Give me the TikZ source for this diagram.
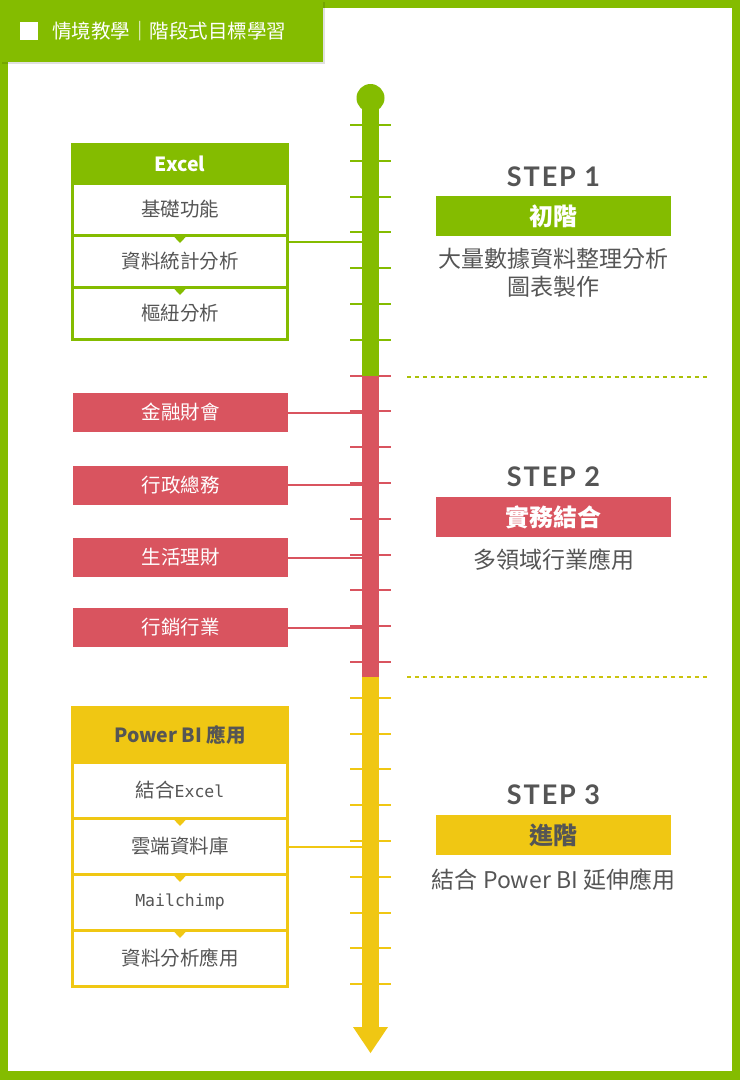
\documentclass[tikz,border=0pt]{standalone}
\usepackage{fontspec}
\setmainfont{Noto Sans CJK TC}
\setmonofont{DejaVu Sans Mono}
\newfontfamily\stepfont[LetterSpace=7]{Lato}
\usepackage{xcolor}
\usetikzlibrary{positioning,calc,shadows}

\definecolor{stepgreen}{HTML}{84BC00}
\definecolor{stepred}{HTML}{D9545F}
\definecolor{stepyellow}{HTML}{F0C713}
\definecolor{textgray}{HTML}{555555}
\newcommand{\monotext}[1]{{\ttfamily\fontsize{16.5}{18}\selectfont #1}}

\tikzset{
  ruler/.style={line width=2pt},
  link/.style={line width=2pt},
  cell/.style={draw, line width=3pt, fill=white, minimum width=215pt, minimum height=52pt,
    inner sep=0pt, outer sep=0pt, text=textgray, font=\fontsize{19.5}{21}\selectfont},
  cellhead/.style={cell, text=white, font=\fontsize{19.5}{21}\selectfont\bfseries},
  job/.style={fill=stepred, minimum width=215pt, minimum height=39pt, inner sep=0pt,
    text=white, font=\fontsize{19.5}{21}\selectfont},
  steptitle/.style={text=textgray, font=\stepfont\bfseries\fontsize{27}{29}\selectfont},
  steplabel/.style={minimum width=235pt, minimum height=40pt, inner sep=0pt,
    font=\fontsize{24}{26}\selectfont\bfseries},
  stepnote/.style={text=textgray, align=center, font=\fontsize{23}{28}\selectfont},
  stepsep/.style={line width=2pt, dash pattern=on 4pt off 4pt},
}

\begin{document}
\begin{tikzpicture}[x=1pt,y=-1pt]
  \useasboundingbox (0,0) rectangle (740,1080);
  % frame
  \fill[stepgreen] (0,0) rectangle (740,1080);
  \fill[white] (8,8) rectangle (732,1071);
  % header tab
  \fill[stepgreen, drop shadow={shadow xshift=2pt, shadow yshift=-2pt, opacity=.12, fill=black}] (0,0) rectangle (323,62);
  \node[fill=white, minimum size=18pt, inner sep=0pt] (hbox) at (29,31) {};
  \node[anchor=west, text=white, inner sep=0pt, font=\fontsize{19.5}{21}\selectfont] (htitle) at (52,31) {情境教學｜階段式目標學習};

  % timeline
  \foreach \k in {0,...,6} \draw[ruler,stepgreen] (350,{125+35.8*\k}) -- (391,{125+35.8*\k});
  \foreach \k in {7,...,15} \draw[ruler,stepred] (350,{125+35.8*\k}) -- (391,{125+35.8*\k});
  \foreach \k in {16,...,24} \draw[ruler,stepyellow] (350,{125+35.8*\k}) -- (391,{125+35.8*\k});
  \fill[stepgreen] (370.5,98) circle (14);
  \fill[stepgreen] (362,98) rectangle (379,376);
  \fill[stepred] (362,376) rectangle (379,677);
  \fill[stepyellow] (362,677) rectangle (379,1030);
  \fill[stepyellow] (353,1027) -- (388,1027) -- (370.5,1053) -- cycle;
  \coordinate (rail) at (362,0);

  % separators
  \draw[stepsep, stepgreen!65!stepyellow] (407,377) -- (707,377);
  \draw[stepsep, stepgreen!35!stepyellow] (407,677) -- (707,677);

  % step 1: Excel
  \node[cellhead, fill=stepgreen, draw=stepgreen, minimum height=39pt] (ex0) at (180,163.5) {Excel};
  \node[cell, draw=stepgreen, below=0pt of ex0] (ex1) {基礎功能};
  \node[cell, draw=stepgreen, below=0pt of ex1] (ex2) {資料統計分析};
  \node[cell, draw=stepgreen, below=0pt of ex2] (ex3) {樞紐分析};
  \foreach \n in {ex2,ex3}
    \fill[stepgreen] (\n.north) ++(-7.5,0) -- ++(15,0) -- ++(-7.5,8) -- cycle;
  \coordinate (exmid) at ($(ex0.north east)!.5!(ex3.south east)$);
  \draw[link, stepgreen] (exmid) -- (exmid -| rail);

  \node[steptitle] (s1) at (553.5,177) {STEP 1};
  \node[steplabel, fill=stepgreen, text=white] (l1) at (553.5,216) {初階};
  \node[stepnote] (n1) at (553.5,273) {大量數據資料整理分析\\圖表製作};

  % step 2: fields
  \node[job] (job1) at (180.5,412.5) {金融財會};
  \node[job] (job2) at (180.5,485) {行政總務};
  \node[job] (job3) at (180.5,557.5) {生活理財};
  \node[job] (job4) at (180.5,627.5) {行銷行業};
  \foreach \n in {job1,job2,job3,job4}
    \draw[link, stepred] (\n.east) -- (\n.east -| rail);

  \node[steptitle] (s2) at (553.5,477) {STEP 2};
  \node[steplabel, fill=stepred, text=white] (l2) at (553.5,517) {實務結合};
  \node[stepnote] (n2) at (553.5,560) {多領域行業應用};

  % step 3: Power BI
  \node[cellhead, fill=stepyellow, draw=stepyellow, text=textgray, minimum height=55pt] (bi0) at (180,734.5) {Power BI 應用};
  \node[cell, draw=stepyellow, minimum height=56pt, below=0pt of bi0] (bi1) {結合\monotext{Excel}};
  \node[cell, draw=stepyellow, minimum height=56pt, below=0pt of bi1] (bi2) {雲端資料庫};
  \node[cell, draw=stepyellow, minimum height=56pt, below=0pt of bi2] (bi3) {\monotext{Mailchimp}};
  \node[cell, draw=stepyellow, minimum height=56pt, below=0pt of bi3] (bi4) {資料分析應用};
  \foreach \n in {bi2,bi3,bi4}
    \fill[stepyellow] (\n.north) ++(-7.5,0) -- ++(15,0) -- ++(-7.5,8) -- cycle;
  \coordinate (bimid) at ($(bi0.north east)!.5!(bi4.south east)$);
  \draw[link, stepyellow] (bimid) -- (bimid -| rail);

  \node[steptitle] (s3) at (553.5,795) {STEP 3};
  \node[steplabel, fill=stepyellow, text=textgray] (l3) at (553.5,835) {進階};
  \node[stepnote] (n3) at (553.5,880) {結合 Power BI 延伸應用};
\end{tikzpicture}
\end{document}
